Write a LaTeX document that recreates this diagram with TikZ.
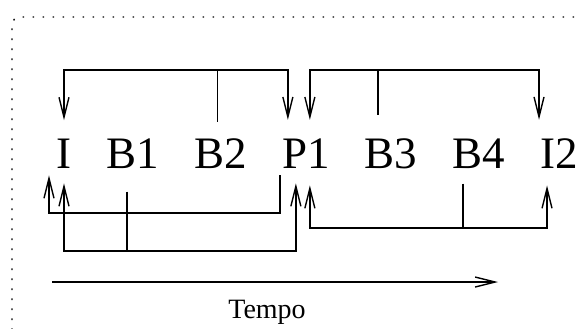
\documentclass[tikz,border=0pt]{standalone}
\usepackage{fontspec}
\setmainfont{Liberation Serif}
\usetikzlibrary{arrows.meta,positioning}
\tikzset{
  barb/.tip={Straight Barb[length=10pt,width=5pt]},
  frame/.style={line width=0.7pt, dash pattern=on 0.8pt off 4.2pt, rounded corners=4pt},
  lbl/.style={font=\fontsize{22.5}{26}\selectfont, inner xsep=0pt, inner ysep=9pt},
  link/.style={line width=0.7pt},
  arr/.style={link, -barb},
  dbl/.style={link, barb-barb}
}
\begin{document}
\begin{tikzpicture}[x=0.5pt, y=0.5pt, node distance=17.2pt]
  \useasboundingbox (0,0) rectangle (582,328);
  \begin{scope}
    \clip (0,0) rectangle (582,328);
    \draw[frame] (12,-20) rectangle (620,311);
  \end{scope}

  \node[lbl, anchor=base] (I) at (64,160) {I};
  \node[lbl, base right=of I] (B1) {B1};
  \node[lbl, base right=of B1] (B2) {B2};
  \node[lbl, base right=of B2] (P1) {P1};
  \node[lbl, base right=of P1] (B3) {B3};
  \node[lbl, base right=of B3] (B4) {B4};
  \node[lbl, base right=of B4] (I2) {I2};

  \coordinate (upA) at (0,258);
  \coordinate (lowC) at (0,115);
  \coordinate (lowD) at (0,77);
  \coordinate (lowE) at (0,100);

  \coordinate (aI) at (I.north);
  \coordinate (aP1) at ([shift={(-18,0)}]P1.north);
  \coordinate (bP1) at ([shift={(4,0)}]P1.north);
  \coordinate (aI2) at ([shift={(-20,0)}]I2.north);
  \coordinate (sB2) at ([shift={(-3,-2)}]B2.north);
  \coordinate (sB3) at ([shift={(-13,5)}]B3.north);
  \draw[dbl] (aI) -- (aI |- upA) -| (aP1);
  \draw[link] (sB2) -- (sB2 |- upA);
  \draw[dbl] (bP1) -- (bP1 |- upA) -| (aI2);
  \draw[link] (sB3) -- (sB3 |- upA);

  \coordinate (sP1) at ([shift={(-26,11)}]P1.south);
  \coordinate (eI) at ([shift={(-15,11)}]I.south);
  \draw[arr] (sP1) -- (sP1 |- lowC) -| (eI);

  \coordinate (sB1) at ([shift={(-6,-5)}]B1.south);
  \coordinate (fI) at ([shift={(0,3)}]I.south);
  \coordinate (fP1) at ([shift={(-10,3)}]P1.south);
  \draw[dbl] (fI) -- (fI |- lowD) -| (fP1);
  \draw[link] (sB1) -- (sB1 |- lowD);

  \coordinate (sB4) at ([shift={(-16,3)}]B4.south);
  \coordinate (gP1) at ([shift={(4,1)}]P1.south);
  \coordinate (gI2) at ([shift={(-12,1)}]I2.south);
  \draw[dbl] (gP1) -- (gP1 |- lowE) -| (gI2);
  \draw[link] (sB4) -- (sB4 |- lowE);

  \coordinate (t0) at (52,46);
  \coordinate (t1) at (498,46);
  \draw[arr] (t0) -- (t1);
  \node[font=\fontsize{14}{16}\selectfont, anchor=base] (tempo) at (267,10) {Tempo};
\end{tikzpicture}
\end{document}
